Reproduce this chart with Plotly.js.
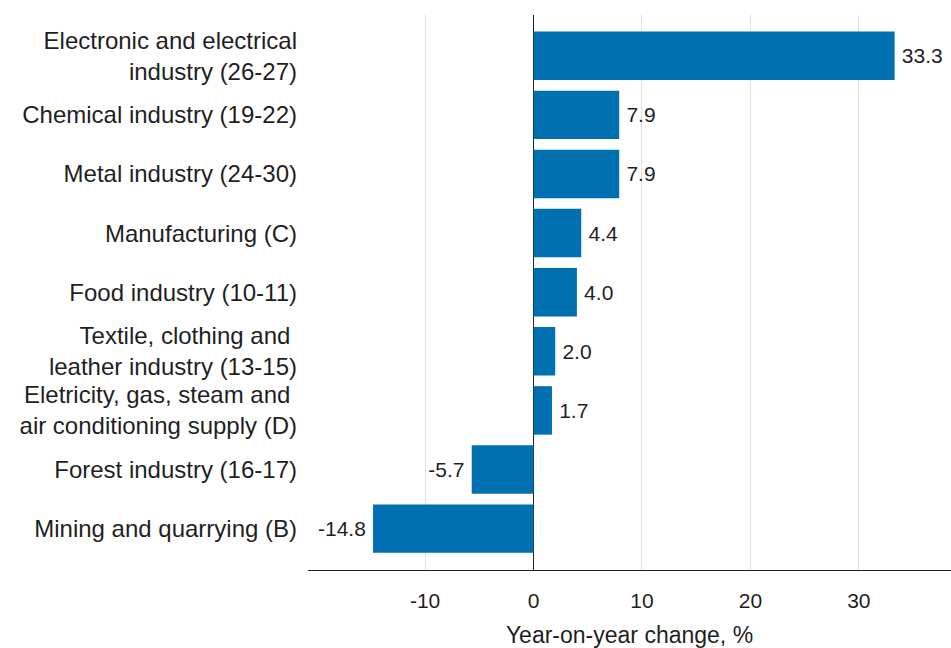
<!DOCTYPE html>
<html>
<head>
<meta charset="utf-8">
<script src="https://cdn.plot.ly/plotly-3.0.1.min.js"></script>
<style>html,body{margin:0;padding:0;background:#fff;}#chart{width:951px;height:648px;}</style>
</head>
<body>
<div id="chart"></div>
<script>
const categories = [
  "Electronic and electrical<br>industry (26-27)",
  "Chemical industry (19-22)",
  "Metal industry (24-30)",
  "Manufacturing (C)",
  "Food industry (10-11)",
  "Textile, clothing and <br>leather industry (13-15)",
  "Eletricity, gas, steam and <br>air conditioning supply (D)",
  "Forest industry (16-17)",
  "Mining and quarrying (B)"
];
const values = [33.3, 7.9, 7.9, 4.4, 4.0, 2.0, 1.7, -5.7, -14.8];
const valueLabels = ["33.3", "7.9", "7.9", "4.4", "4.0", "2.0", "1.7", "-5.7", "-14.8"];
const xTicks = [-10, 0, 10, 20, 30];
const xTitle = "Year-on-year change, %";

const FONT = "Liberation Sans, Arial, sans-serif";
const TXT = "#1f1f1f";
const trace = {
  type: "bar",
  orientation: "h",
  x: values,
  y: categories,
  text: valueLabels.map(function (s, i) { return values[i] < 0 ? s + "\u2009" : "\u2009" + s; }),
  textposition: "outside",
  cliponaxis: false,
  textfont: {family: FONT, size: 21, color: TXT},
  marker: {color: "#0070b0"},
  hoverinfo: "none"
};
const layout = {
  width: 951, height: 648,
  margin: {l: 308, r: 0, t: 15, b: 78},
  paper_bgcolor: "#fff", plot_bgcolor: "#fff",
  bargap: 0.18,
  showlegend: false,
  font: {family: FONT, color: TXT},
  xaxis: {
    range: [-20.8, 38.5],
    tickvals: xTicks,
    ticktext: xTicks.map(String),
    showgrid: true, gridcolor: "#e0e0e0", gridwidth: 1,
    zeroline: true, zerolinecolor: "#222", zerolinewidth: 1.5,
    showline: true, linecolor: "#222", linewidth: 1,
    ticks: "",
    ticklabelstandoff: 12,
    tickfont: {family: FONT, size: 21, color: TXT},
    title: {text: xTitle, font: {family: FONT, size: 23, color: TXT}, standoff: 16}
  },
  yaxis: {
    type: "category",
    range: [8.7, -0.69],
    autorange: false,
    showgrid: false, zeroline: false, showline: false,
    ticks: "",
    ticklabelstandoff: 10,
    tickfont: {family: FONT, size: 24, color: TXT}
  }
};
Plotly.newPlot("chart", [trace], layout, {staticPlot: true, displayModeBar: false});
</script>
</body>
</html>
